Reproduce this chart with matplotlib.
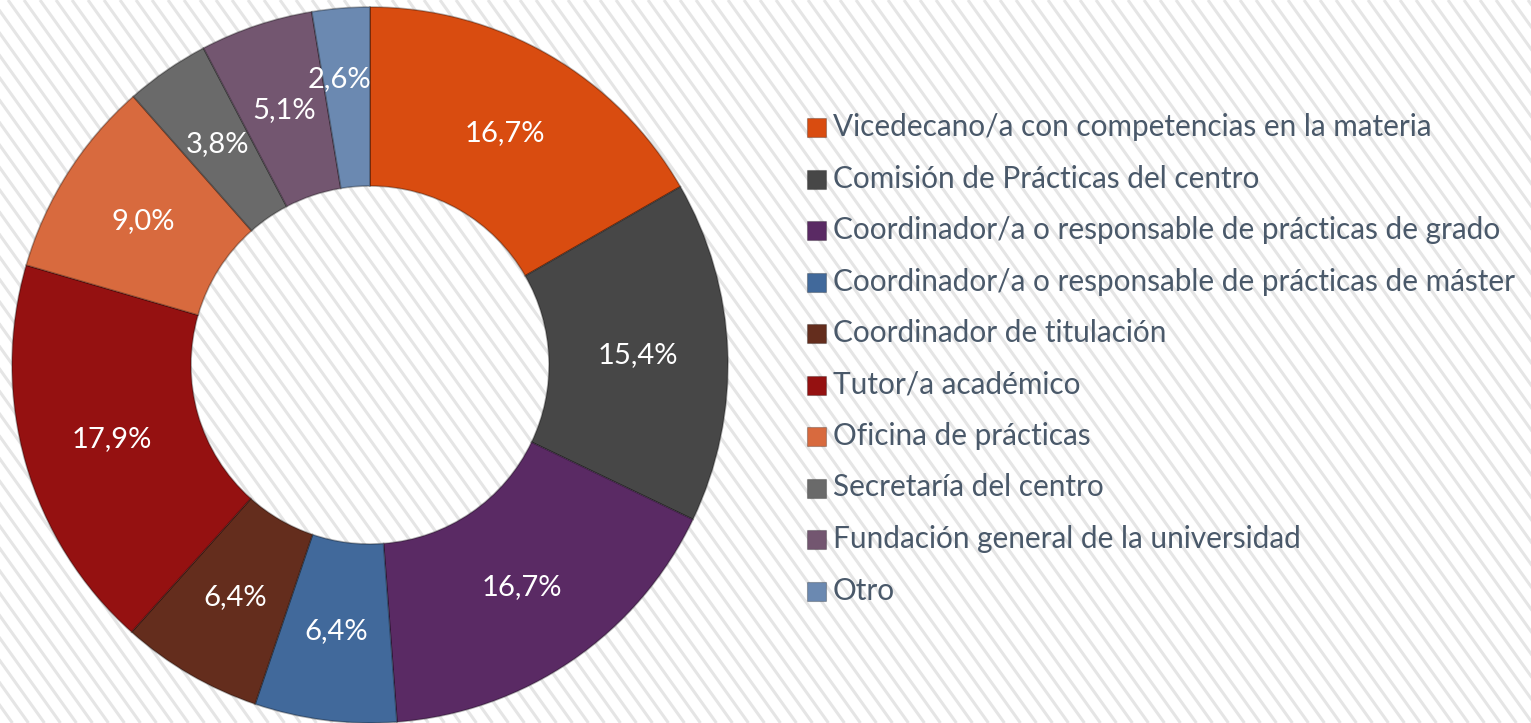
import matplotlib.pyplot as plt
from matplotlib.patches import Rectangle

# categories and shares (%), clockwise from 12 o'clock
categories = [
    'Vicedecano/a con competencias en la materia',
    'Comisión de Prácticas del centro',
    'Coordinador/a o responsable de prácticas de grado',
    'Coordinador/a o responsable de prácticas de máster',
    'Coordinador de titulación',
    'Tutor/a académico',
    'Oficina de prácticas',
    'Secretaría del centro',
    'Fundación general de la universidad',
    'Otro',
]
shares = [16.7, 15.4, 16.7, 6.4, 6.4, 17.9, 9.0, 3.8, 5.1, 2.6]
colors = ['#d94c10', '#474747', '#5a2a64', '#41699b', '#642d1d',
          '#951111', '#d86a3e', '#6a6a6a', '#735670', '#6b89b1']

W, H = 1531, 723
plt.rcParams['font.family'] = ['Lato', 'DejaVu Sans']

fig = plt.figure(figsize=(W / 100, H / 100), dpi=100)
fig.patch.set_facecolor('white')

# background with diagonal stripes, in pixel coordinates
bg = fig.add_axes([0, 0, 1, 1])
bg.set_xlim(0, W)
bg.set_ylim(H, 0)
bg.axis('off')
slope = 1.4
for x0 in range(-int(H / slope) - 20, W + 20, 16):
    bg.plot([x0, x0 + H / slope], [0, H], color='#e5e5e5', lw=2.2,
            solid_capstyle='butt', zorder=0)

# donut: centre (370, 365), outer radius ~358 px
cx, cy, r = 370, 365, 358
ax = fig.add_axes([(cx - r) / W, (H - cy - r) / H, 2 * r / W, 2 * r / H])
ax.patch.set_alpha(0)

wedges, _, pcts = ax.pie(
    shares, colors=colors, startangle=90, counterclock=False,
    autopct=lambda p: f'{p:.1f}'.replace('.', ',') + '%',
    pctdistance=0.75, radius=1.0,
    wedgeprops=dict(width=0.5, edgecolor=(0, 0, 0, 0.3), linewidth=1.2),
    textprops=dict(color='white', fontsize=21),
)
# the small last slice's label sits a bit further out, like in the original
px, py = pcts[-1].get_position()
pcts[-1].set_position((px * 1.07 - 0.02, py * 1.07))
ax.set_xlim(-1, 1)
ax.set_ylim(-1, 1)

# legend drawn by hand so spacing matches
for i, (lab, col) in enumerate(zip(categories, colors)):
    y = 127 + i * 51.5
    bg.add_patch(Rectangle((807, y - 9), 19, 19, facecolor=col,
                           edgecolor=(0, 0, 0, 0.25), lw=0.8, zorder=3))
    bg.text(833, y, lab, va='center', ha='left', fontsize=21.4,
            color='#4a596a', zorder=3)

fig.savefig('out.png', dpi=100)
